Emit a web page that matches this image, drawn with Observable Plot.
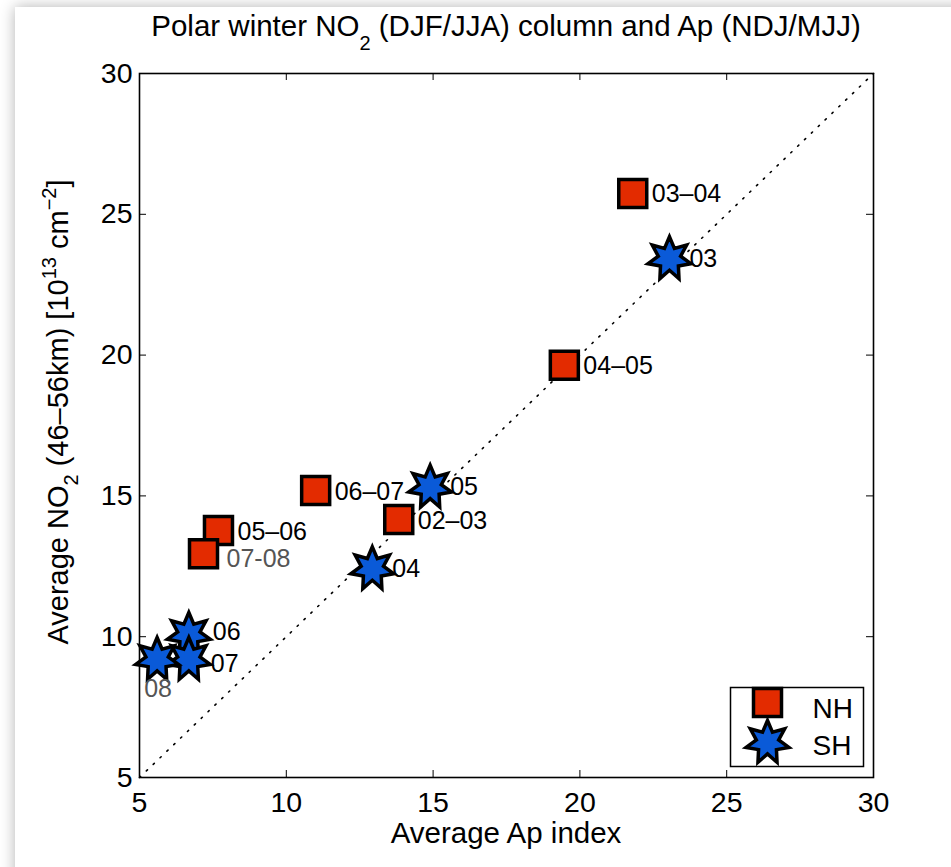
<!DOCTYPE html>
<html><head><meta charset="utf-8">
<script src="https://cdn.jsdelivr.net/npm/d3@7"></script>
<script src="https://cdn.jsdelivr.net/npm/@observablehq/plot@0.6"></script>
<style>
html,body{margin:0;padding:0;background:#fff;width:951px;height:867px;overflow:hidden}
#sheet{position:absolute;left:15px;top:7px;width:1000px;height:1000px;background:#fff;box-shadow:0 0 14px rgba(0,0,0,0.30)}
#chart{position:absolute;left:0;top:0}
</style></head><body><div id="sheet"></div><div id="chart"></div>
<script>
// NH: winter DJF NO2 vs NDJ Ap
const nhLabels = ["02–03","03–04","04–05","05–06","06–07","07-08"];
const nhAp     = [13.83, 21.8, 19.47, 7.69, 11.0, 7.18];
const nhNO2    = [14.16, 25.74, 19.64, 13.77, 15.19, 12.95];
// SH: winter JJA NO2 vs MJJ Ap
const shLabels = ["03","04","05","06","07","08"];
const shAp     = [23.05, 12.93, 14.9, 6.68, 6.68, 5.6];
const shNO2    = [23.42, 12.41, 15.31, 10.08, 9.19, 9.19];
const ticks = [5,10,15,20,25,30];
const diag = [5,30];
const legendItems = ["NH","SH"];
const grayLabels = new Set(["07-08","08"]);
const upperLabels = new Set(["06"]);
const lowerLabels = new Set(["07"]);

const nh = nhLabels.map((l,i)=>({label:l, ap:nhAp[i], no2:nhNO2[i]}));
const sh = shLabels.map((l,i)=>({label:l, ap:shAp[i], no2:shNO2[i]}));

const RED = "#e32b00", BLUE = "#0a5ad8";
const squareSym = {draw(ctx,size){const h=Math.sqrt(size/Math.PI);ctx.moveTo(-h,-h);ctx.lineTo(h,-h);ctx.lineTo(h,h);ctx.lineTo(-h,h);ctx.closePath();}};
const starSym = {draw(ctx,size){const R=Math.sqrt(size/Math.PI), r=R*0.52;
  for(let i=0;i<14;i++){const a=-Math.PI/2+i*Math.PI/7, rr=i%2?r:R, px=rr*Math.cos(a), py=rr*Math.sin(a); if(i) ctx.lineTo(px,py); else ctx.moveTo(px,py);} ctx.closePath();}};

const W=951,H=867,ML=139,MR=78,MT=73,MB=90;
const iw=W-ML-MR, ih=H-MT-MB, TL=7;
const mk = {stroke:"black", strokeWidth:3.5, strokeLinejoin:"miter", strokeMiterlimit:10};
const isBlackSH = d=>!grayLabels.has(d.label) && !upperLabels.has(d.label) && !lowerLabels.has(d.label);

const plot = Plot.plot({
  width:W, height:H, marginLeft:ML, marginRight:MR, marginTop:MT, marginBottom:MB,
  x:{domain:[5,30]}, y:{domain:[5,30]},
  style:{fontFamily:"'Liberation Sans', Arial, Helvetica, sans-serif", fontSize:"28px", background:"transparent", color:"black", overflow:"visible"},
  marks:[
    Plot.line(diag,{x:d=>d,y:d=>d,stroke:"black",strokeWidth:1.6,strokeDasharray:"1.5,8"}),
    Plot.tickX(ticks,{x:d=>d,insetTop:ih-TL,stroke:"black",strokeWidth:1}),
    Plot.tickX(ticks,{x:d=>d,insetBottom:ih-TL,stroke:"black",strokeWidth:1}),
    Plot.tickY(ticks,{y:d=>d,insetRight:iw-TL,stroke:"black",strokeWidth:1}),
    Plot.tickY(ticks,{y:d=>d,insetLeft:iw-TL,stroke:"black",strokeWidth:1}),
    Plot.axisX({ticks, tickSize:0, tickPadding:14, label:null, fontSize:28.5}),
    Plot.axisY({ticks, tickSize:0, tickPadding:7, label:null, fontSize:28.5}),
    Plot.frame({stroke:"black", strokeWidth:1.6}),
    Plot.dot(nh,{x:"ap",y:"no2",symbol:squareSym,r:14,fill:RED,...mk}),
    Plot.dot(sh,{x:"ap",y:"no2",symbol:starSym,r:22,fill:BLUE,...mk}),
    Plot.text(nh.filter(d=>!grayLabels.has(d.label)),{x:"ap",y:"no2",text:"label",dx:19,dy:1,textAnchor:"start",lineAnchor:"middle",fontSize:25,fill:"black"}),
    Plot.text(sh.filter(isBlackSH),{x:"ap",y:"no2",text:"label",dx:20,dy:0,textAnchor:"start",lineAnchor:"middle",fontSize:25,fill:"black"}),
    Plot.text(sh.filter(d=>upperLabels.has(d.label)),{x:"ap",y:"no2",text:"label",dx:24,dy:-2,textAnchor:"start",lineAnchor:"middle",fontSize:25,fill:"black"}),
    Plot.text(sh.filter(d=>lowerLabels.has(d.label)),{x:"ap",y:"no2",text:"label",dx:22,dy:4,textAnchor:"start",lineAnchor:"middle",fontSize:25,fill:"black"}),
    Plot.text(nh.filter(d=>grayLabels.has(d.label)),{x:"ap",y:"no2",text:"label",dx:23,dy:5,textAnchor:"start",lineAnchor:"middle",fontSize:25,fill:"#555"}),
    Plot.text(sh.filter(d=>grayLabels.has(d.label)),{x:"ap",y:"no2",text:"label",dx:1,dy:29,textAnchor:"middle",lineAnchor:"middle",fontSize:25,fill:"#555"}),
    // legend
    Plot.frame({fill:"white",stroke:"black",strokeWidth:1.5,insetLeft:591,insetTop:614,insetRight:10,insetBottom:11}),
    Plot.dot(["NH"],{frameAnchor:"bottom-right",dx:-106,dy:-75,symbol:squareSym,r:14,fill:RED,...mk}),
    Plot.dot(["SH"],{frameAnchor:"bottom-right",dx:-106,dy:-35,symbol:starSym,r:22,fill:BLUE,...mk}),
    Plot.text([legendItems[0]],{text:d=>d,frameAnchor:"bottom-right",dx:-61,dy:-68,textAnchor:"start",lineAnchor:"middle",fontSize:28}),
    Plot.text([legendItems[1]],{text:d=>d,frameAnchor:"bottom-right",dx:-61,dy:-31,textAnchor:"start",lineAnchor:"middle",fontSize:28})
  ]
});
document.getElementById("chart").appendChild(plot);

const svg = d3.select(plot);
const cx = ML + iw/2;
// title
const t = svg.append("text").attr("x",cx).attr("y",36).attr("text-anchor","middle").attr("fill","black").style("font-size","29.5px");
t.append("tspan").text("Polar winter NO");
t.append("tspan").attr("dy",14).style("font-size","20px").text("2");
t.append("tspan").attr("dy",-14).text(" (DJF/JJA) column and Ap (NDJ/MJJ)");
// x label
svg.append("text").attr("x",cx).attr("y",843).attr("text-anchor","middle").attr("fill","black").style("font-size","29.5px").text("Average Ap index");
// y label
const yl = svg.append("text").attr("transform",`translate(68,${MT+ih/2-13}) rotate(-90)`).attr("text-anchor","middle").attr("fill","black").style("font-size","29px");
yl.append("tspan").text("Average NO");
yl.append("tspan").attr("dy",10).style("font-size","20px").text("2");
yl.append("tspan").attr("dy",-10).text(" (46–56km) [10");
yl.append("tspan").attr("dy",-12).style("font-size","20px").text("13");
yl.append("tspan").attr("dy",12).text(" cm");
yl.append("tspan").attr("dy",-12).style("font-size","20px").text("−2");
yl.append("tspan").attr("dy",12).text("]");
</script></body></html>
